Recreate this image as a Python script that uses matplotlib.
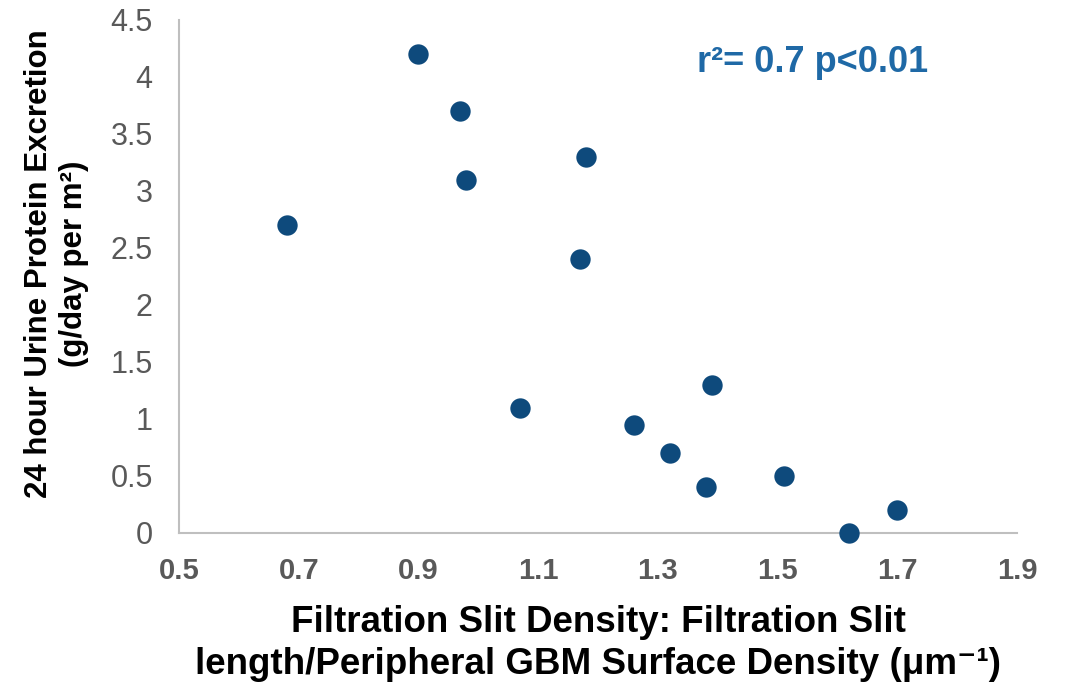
import matplotlib
matplotlib.use("Agg")
import matplotlib.pyplot as plt

# slit density (um^-1) vs 24h urine protein (g/day per m2)
slit_density = [0.68, 0.90, 0.97, 0.98, 1.18, 1.17, 1.07, 1.26, 1.39, 1.32, 1.38, 1.51, 1.62, 1.70]
protein = [2.7, 4.2, 3.7, 3.1, 3.3, 2.4, 1.1, 0.95, 1.3, 0.7, 0.4, 0.5, 0.0, 0.2]

x_ticks = [0.5, 0.7, 0.9, 1.1, 1.3, 1.5, 1.7, 1.9]
y_ticks = [0, 0.5, 1, 1.5, 2, 2.5, 3, 3.5, 4, 4.5]

plt.rcParams["font.family"] = ["Liberation Sans", "DejaVu Sans"]

fig = plt.figure(figsize=(10.66, 6.84), dpi=100)
ax = fig.add_axes([0.168, 0.2208, 0.786, 0.75])

ax.scatter(slit_density, protein, s=215, color="#0E4A7C", zorder=3, clip_on=False, linewidths=0)

ax.set_xlim(0.5, 1.9)
ax.set_ylim(0, 4.5)
ax.set_xticks(x_ticks)
ax.set_yticks(y_ticks)
ax.set_xticklabels([f"{t:g}" for t in x_ticks], fontsize=21, fontweight="bold", color="#595959")
ax.set_yticklabels([f"{t:g}" for t in y_ticks], fontsize=22, color="#595959")
ax.tick_params(length=0)
ax.tick_params(axis="x", pad=17)
ax.tick_params(axis="y", pad=19)

for side in ["top", "right"]:
    ax.spines[side].set_visible(False)
for side in ["left", "bottom"]:
    ax.spines[side].set_color("#BFBFBF")
    ax.spines[side].set_linewidth(1.5)

ax.set_xlabel("Filtration Slit Density: Filtration Slit\nlength/Peripheral GBM Surface Density (\u03bcm\u207b\u00b9)",
              fontsize=26.5, fontweight="bold", labelpad=15, linespacing=1.25)
ax.set_ylabel("24 hour Urine Protein Excretion\n(g/day per m\u00b2)",
              fontsize=22.5, fontweight="bold", linespacing=1.2)
ax.yaxis.set_label_coords(-0.108, 0.525)

ax.text(0.756, 0.918, "r\u00b2= 0.7 p<0.01", transform=ax.transAxes, ha="center", va="center",
        fontsize=26, fontweight="bold", color="#1F69A6")

fig.savefig("out.png", dpi=100)
